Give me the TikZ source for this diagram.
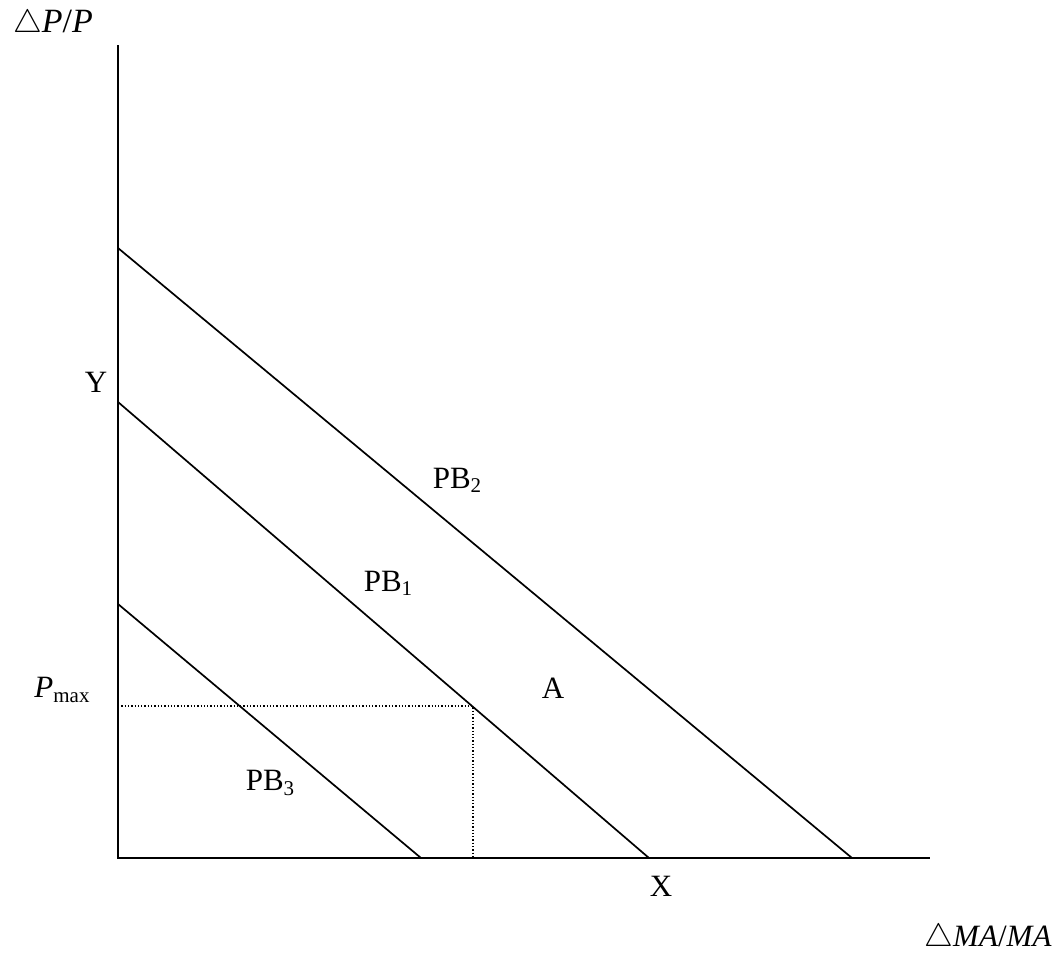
\documentclass[tikz,border=0pt]{standalone}
\usepackage{fontspec}
\setmainfont{Liberation Serif}
\begin{document}
\begin{tikzpicture}[x=1pt,y=-1pt,
  axis/.style={line width=2.1pt},
  budget/.style={line width=1.7pt},
  guide/.style={line width=1.3pt, dotted},
  lbl/.style={font=\fontsize{31}{36}\selectfont, inner sep=0pt}]
\useasboundingbox (0,0) rectangle (1058,954);
\coordinate (O) at (118,858);
\coordinate (Ytop) at (118,45);
\coordinate (Xend) at (930,858);
\draw[axis] (Ytop) -- (O) -- (Xend);
% budget lines
\coordinate (b2a) at (118,248); \coordinate (b2b) at (852,858);
\coordinate (b1a) at (118,402); \coordinate (b1b) at (649,858);
\coordinate (b3a) at (118,604); \coordinate (b3b) at (421,858);
\draw[budget] (b2a) -- (b2b);
\draw[budget] (b1a) -- (b1b);
\draw[budget] (b3a) -- (b3b);
% dotted guides
\coordinate (pm) at (118,706);
\coordinate (pt) at (473,706);
\coordinate (px) at (473,858);
\draw[guide] (pm) -- (pt) -- (px);
% labels
\node[lbl, font=\fontsize{34}{38}\selectfont] (ylab) at (53,24) {\scalebox{1.3}{$\triangle$}\textit{P}/\textit{P}};
\node[lbl] (xlab) at (988,938) {\scalebox{1.3}{$\triangle$}\textit{MA}/\textit{MA}};
\node[lbl] (Y) at (96,382) {Y};
\node[lbl] (X) at (661,886) {X};
\node[lbl] (A) at (553,688) {A};
\node[lbl] (Pmax) at (62,690) {\textit{P}\raisebox{-0.3ex}{\fontsize{21}{24}\selectfont max}};
\node[lbl] (PB2) at (457,480) {PB\raisebox{-0.3ex}{\fontsize{21}{24}\selectfont 2}};
\node[lbl] (PB1) at (388,583) {PB\raisebox{-0.3ex}{\fontsize{21}{24}\selectfont 1}};
\node[lbl] (PB3) at (270,783) {PB\raisebox{-0.3ex}{\fontsize{21}{24}\selectfont 3}};
\end{tikzpicture}
\end{document}
